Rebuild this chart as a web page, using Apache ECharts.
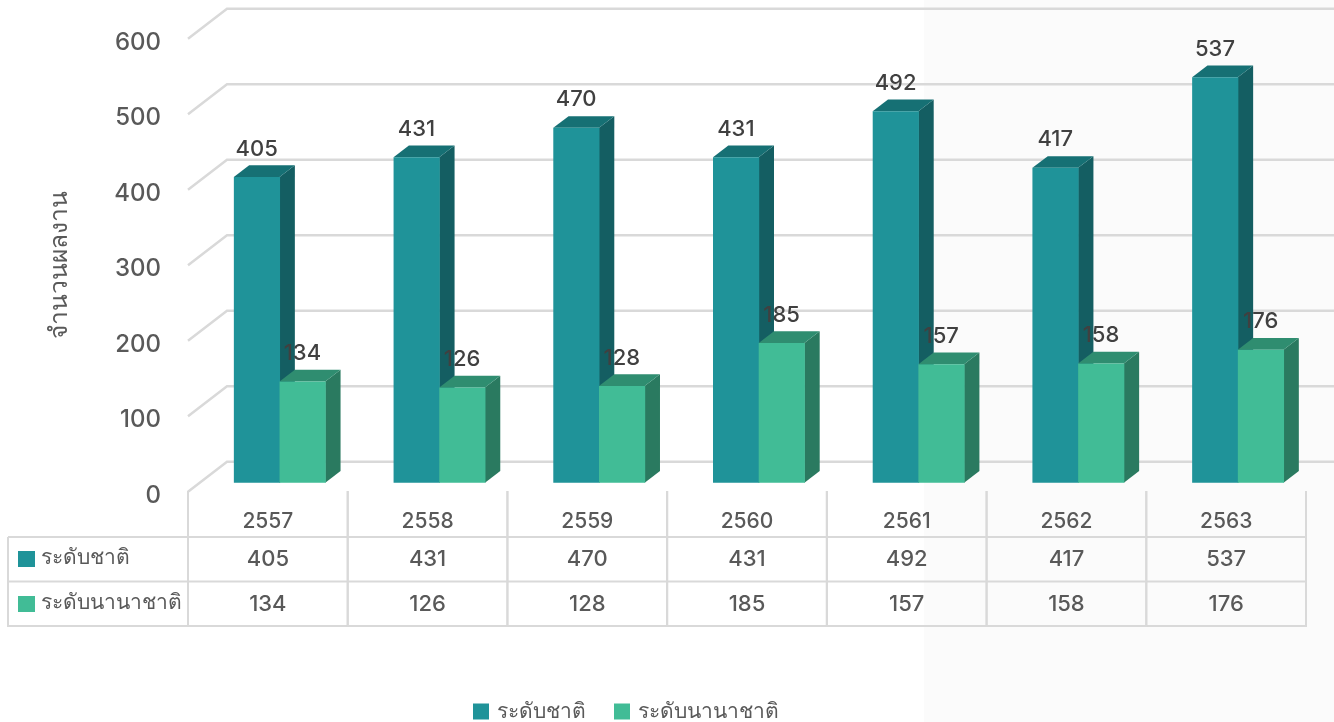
<!DOCTYPE html>
<html>
<head>
<meta charset="utf-8">
<style>
  html, body { margin: 0; padding: 0; background: #fff; }
  #chart { width: 1334px; height: 722px; }
</style>
<script src="https://cdn.jsdelivr.net/npm/echarts@6/dist/echarts.min.js"></script>
</head>
<body>
<div id="chart"></div>
<script>
const years = ['2557', '2558', '2559', '2560', '2561', '2562', '2563'];
const nationalName = 'ระดับชาติ';
const internationalName = 'ระดับนานาชาติ';
const national = [405, 431, 470, 431, 492, 417, 537];
const international = [134, 126, 128, 185, 157, 158, 176];
const yTicks = [0, 100, 200, 300, 400, 500, 600];

const FONT = 'Inter, "Noto Sans", sans-serif';
const LINE = '#d9d9d9';
const TEAL = { front: '#1f9399', top: '#167074', side: '#145e62' };
const GREEN = { front: '#41bc96', top: '#2f8d70', side: '#2a7a60' };

const chart = echarts.init(document.getElementById('chart'));

// fake 3d box, front face sits a bit behind the axis plane
function box(api, colors, shift) {
  const p = api.coord([api.value(0), api.value(1)]);
  const p0 = api.coord([api.value(0), 0]);
  const w = 45.7, dx = 15.3, dy = 11.7;
  const x = p[0] + shift;
  const y = p[1] - 9;
  const h = p0[1] - p[1];
  const poly = (points, fill) => ({ type: 'polygon', shape: { points }, style: { fill } });
  return {
    type: 'group',
    children: [
      poly([[x + w, y], [x + w + dx, y - dy], [x + w + dx, y + h - dy], [x + w, y + h]], colors.side),
      poly([[x, y], [x + dx, y - dy], [x + w + dx, y - dy], [x + w, y]], colors.top),
      // half a pixel extra so no seam shows where the two fronts touch
      { type: 'rect', shape: { x, y, width: w + 0.5, height: h }, style: { fill: colors.front } },
      {
        type: 'text', z2: 10,
        style: {
          x: x + w / 2, y: y - 28, text: String(api.value(1)),
          font: '500 22px ' + FONT, fill: '#404040', align: 'center', verticalAlign: 'middle'
        }
      }
    ]
  };
}

function wallLine(params, api) {
  const cs = params.coordSys;
  const y = api.coord([0, api.value(1)])[1];
  return {
    type: 'polyline',
    shape: { points: [[cs.x, y], [cs.x + 39, y - 30], [cs.x + cs.width + 39, y - 30]] },
    style: { stroke: LINE, lineWidth: 2.5, fill: null }
  };
}

const ROW_Y = [559, 604];
const ROW_LINES = [537, 581.5, 626];
const ROW_NAMES = [nationalName, internationalName];
const ROW_COLORS = [TEAL.front, GREEN.front];

function tableCell(params, api) {
  const cs = params.coordSys;
  const i = api.value(0);
  const cx = api.coord([i, 0])[0];
  const colW = cs.width / years.length;
  const line = (x1, y1, x2, y2) => ({
    type: 'line', shape: { x1, y1, x2, y2 }, style: { stroke: LINE, lineWidth: 2 }
  });
  const text = (x, y, t, align, size) => ({
    type: 'text',
    style: { x, y, text: t, font: '500 ' + size + 'px ' + FONT, fill: '#595959', align, verticalAlign: 'middle' }
  });
  const children = [
    line(cx - colW / 2, 491, cx - colW / 2, 627),
    line(cx + colW / 2, 491, cx + colW / 2, 627),
    text(cx, ROW_Y[0], String(national[i]), 'center', 22),
    text(cx, ROW_Y[1], String(international[i]), 'center', 22)
  ];
  if (i === 0) {
    ROW_LINES.forEach(y => children.push(line(8, y, cs.x + cs.width, y)));
    children.push(line(8, 537, 8, 627));
    ROW_Y.forEach((y, r) => {
      children.push({ type: 'rect', shape: { x: 18, y: y - 8, width: 17, height: 16 }, style: { fill: ROW_COLORS[r] } });
      children.push(text(41, y - 1, ROW_NAMES[r], 'left', 21));
    });
  }
  return { type: 'group', children };
}

const option = {
  animation: false,
  backgroundColor: '#fff',
  textStyle: { fontFamily: FONT },
  graphic: [
    { type: 'rect', z: -10, silent: true, shape: { x: 924, y: 0, width: 410, height: 722 }, style: { fill: '#fbfbfb' } }
  ],
  legend: {
    data: [nationalName, internationalName],
    left: 473, top: 701, padding: 0, itemWidth: 16, itemHeight: 16, itemGap: 28,
    icon: 'rect',
    textStyle: { fontFamily: FONT, fontSize: 21, fontWeight: 500, color: '#595959', padding: [0, 0, 0, 3] }
  },
  grid: { left: 188, top: 38.7, width: 1118, height: 453 },
  xAxis: {
    type: 'category',
    data: years,
    axisLine: { show: false },
    axisTick: { show: false },
    axisLabel: { margin: 19, fontSize: 21, fontWeight: 500, color: '#595959', fontFamily: FONT }
  },
  yAxis: {
    type: 'value',
    min: 0, max: 600, interval: 100,
    name: 'จำนวนผลงาน',
    nameLocation: 'middle',
    nameGap: 116,
    nameTextStyle: { fontSize: 24.5, fontWeight: 500, color: '#595959', fontFamily: FONT },
    axisLine: { show: false },
    axisTick: { show: false },
    splitLine: { show: false },
    // numbers sit slightly below their tick in the reference
    axisLabel: { margin: 27, fontSize: 24, fontWeight: 500, color: '#595959', fontFamily: FONT, verticalAlign: 'top', lineHeight: 8 }
  },
  series: [
    {
      type: 'custom', name: 'wall', silent: true,
      data: yTicks.map(v => [0, v]),
      renderItem: wallLine
    },
    {
      type: 'custom', name: 'table', silent: true,
      data: years.map((y, i) => [i, 0]),
      renderItem: tableCell
    },
    {
      type: 'custom', name: nationalName,
      itemStyle: { color: TEAL.front },
      data: national.map((v, i) => [i, v]),
      renderItem: (params, api) => box(api, TEAL, -34)
    },
    {
      type: 'custom', name: internationalName,
      itemStyle: { color: GREEN.front },
      data: international.map((v, i) => [i, v]),
      renderItem: (params, api) => box(api, GREEN, 11.7)
    }
  ]
};

chart.setOption(option);
</script>
</body>
</html>
